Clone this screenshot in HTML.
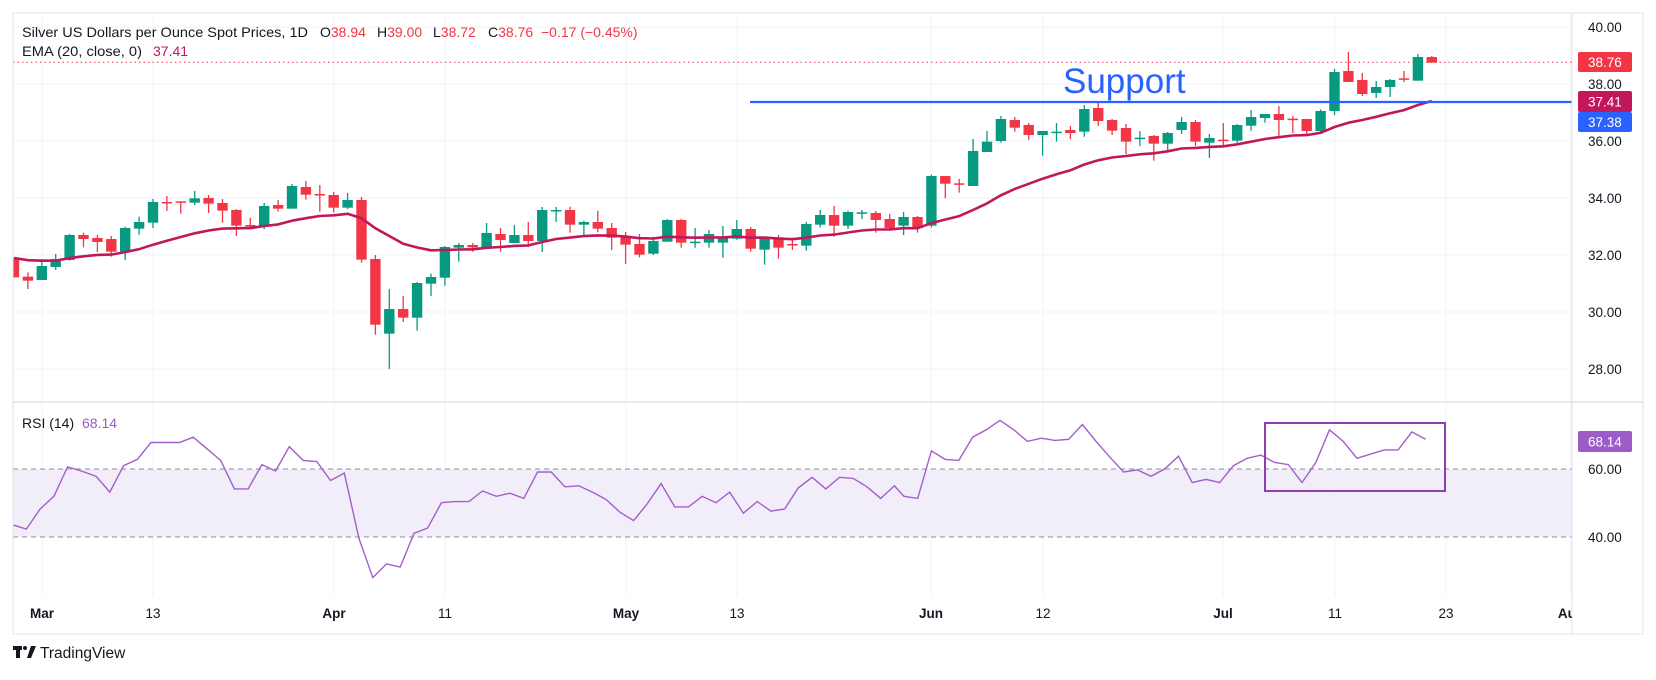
<!DOCTYPE html>
<html><head><meta charset="utf-8"><style>
body{margin:0;background:#fff;width:1656px;height:675px;overflow:hidden;font-family:"Liberation Sans",sans-serif}
svg text{font-family:"Liberation Sans",sans-serif}
</style></head><body>
<svg id="s" width="1656" height="675" viewBox="0 0 1656 675" xmlns="http://www.w3.org/2000/svg">
<rect x="0" y="0" width="1656" height="675" fill="#fff"/>
<g id="grid" stroke="#f0f3fa" stroke-width="1"></g>
<rect x="13" y="469" width="1559" height="68" fill="#ede8f7" opacity="0.75"/>
<line x1="13" y1="469" x2="1572" y2="469" stroke="#8a8e99" stroke-dasharray="5,4"/>
<line x1="13" y1="537" x2="1572" y2="537" stroke="#8a8e99" stroke-dasharray="5,4"/>
<line x1="13" y1="62.3" x2="1572" y2="62.3" stroke="#f23645" stroke-dasharray="1.5,3"/>
<g id="candles"></g>
<path id="ema" fill="none" stroke="#c2185b" stroke-width="2.6" stroke-linejoin="round"/>
<line x1="750" y1="102" x2="1572" y2="102" stroke="#2962ff" stroke-width="2.2"/>
<text x="1063" y="93" font-size="35" fill="#2962ff">Support</text>
<path id="rsi" fill="none" stroke="#a45ecb" stroke-width="1.4"/>
<rect x="1265" y="423" width="180" height="68" fill="none" stroke="#8e3fae" stroke-width="2"/>
<rect x="13" y="13" width="1630" height="621" fill="none" stroke="#e0e3eb"/>
<line x1="1572" y1="13" x2="1572" y2="634" stroke="#e0e3eb"/>
<line x1="13" y1="402" x2="1643" y2="402" stroke="#e0e3eb" stroke-width="1.5"/>
<g font-size="13.5" fill="#131722">
<text x="1588" y="32">40.00</text>
<text x="1588" y="89">38.00</text>
<text x="1588" y="146">36.00</text>
<text x="1588" y="203">34.00</text>
<text x="1588" y="260">32.00</text>
<text x="1588" y="317">30.00</text>
<text x="1588" y="374">28.00</text>
<text x="1588" y="474">60.00</text>
<text x="1588" y="542">40.00</text>
</g>
<rect x="1578" y="52" width="54" height="20" rx="2" fill="#f23645"/>
<text x="1588" y="67" font-size="13.5" fill="#fff">38.76</text>
<rect x="1578" y="91" width="54" height="21" rx="2" fill="#c2185b"/>
<text x="1588" y="106.5" font-size="13.5" fill="#fff">37.41</text>
<rect x="1578" y="112" width="54" height="20" rx="2" fill="#2962ff"/>
<text x="1588" y="127" font-size="13.5" fill="#fff">37.38</text>
<rect x="1578" y="431" width="54" height="21" rx="2" fill="#9c5bc7"/>
<text x="1588" y="446.5" font-size="13.5" fill="#fff">68.14</text>
<g font-size="13.5" fill="#131722" text-anchor="middle">
<text x="42" y="618" font-weight="bold">Mar</text>
<text x="153" y="618">13</text>
<text x="334" y="618" font-weight="bold">Apr</text>
<text x="445" y="618">11</text>
<text x="626" y="618" font-weight="bold">May</text>
<text x="737" y="618">13</text>
<text x="931" y="618" font-weight="bold">Jun</text>
<text x="1043" y="618">12</text>
<text x="1223" y="618" font-weight="bold">Jul</text>
<text x="1335" y="618">11</text>
<text x="1446" y="618">23</text>
</g>
<svg x="1540" y="600" width="32" height="30"><text x="31" y="18" font-size="13.5" font-weight="bold" fill="#131722" text-anchor="middle">Aug</text></svg>
<g font-size="14" fill="#131722">
<text x="22" y="37" textLength="286" lengthAdjust="spacingAndGlyphs">Silver US Dollars per Ounce Spot Prices, 1D</text>
<text x="320" y="37">O<tspan fill="#f23645">38.94</tspan></text>
<text x="377" y="37">H<tspan fill="#f23645">39.00</tspan></text>
<text x="433" y="37">L<tspan fill="#f23645">38.72</tspan></text>
<text x="488" y="37">C<tspan fill="#f23645">38.76</tspan></text>
<text x="541" y="37" fill="#f23645">−0.17 (−0.45%)</text>
<text x="22" y="56" textLength="120" lengthAdjust="spacingAndGlyphs">EMA (20, close, 0)</text>
<text x="153" y="56" fill="#c2185b">37.41</text>
<text x="22" y="428">RSI (14) <tspan dx="4" fill="#9c5bc7">68.14</tspan></text>
</g>
<g fill="#131722"><rect x="13" y="646" width="9" height="4"/><rect x="16" y="646" width="4" height="12"/><circle cx="25" cy="648" r="2"/><polygon points="27,658 31,646 36,646 31,658"/></g>
<text x="40" y="658" font-size="15.5" fill="#131722">TradingView</text>
</svg>
<script>
var NS="http://www.w3.org/2000/svg";
function el(t,a,p){var e=document.createElementNS(NS,t);for(var k in a)e.setAttribute(k,a[k]);p.appendChild(e);return e;}
var grid=document.getElementById('grid');
[42,153,334,445,626,737,931,1043,1223,1335,1446,1571].forEach(function(x){el('line',{x1:x,y1:13,x2:x,y2:596},grid);});
[27,84,141,198,255,312,369].forEach(function(y){el('line',{x1:13,y1:y,x2:1572,y2:y},grid);});
var z3=[[295,352,295,352,0],[350,362,337,387,0],[318,360,297,360,1],[297,321,282,330,1],[225,300,222,302,1],[225,237,218,262,0],[234,246,225,276,0],[237,275,228,290,0],[204,275,200,300,1],[186,206,170,224,1],[126,188,117,204,1],[126,128,108,153,0],[124,126,124,161,0],[115,128,93,135,1],[114,131,105,159,0],[129,152,117,188,0],[150,197,147,228,0],[195,198,173,206,0],[138,200,129,207,1],[135,146,120,155,0],[78,146,72,146,1],[81,104,63,119,0],[102,106,75,155,0],[105,143,96,158,0],[120,143,99,147,1],[120,299,111,308,0],[297,494,285,524,0],[447,521,387,627,1],[447,473,408,486,0],[369,473,366,512,1],[351,371,341,408,1],[261,353,258,377,1],[255,263,249,305,1],[255,262,249,275,0],[219,261,189,261,1],[222,240,204,275,0],[225,249,195,249,1],[225,243,186,261,0],[150,243,141,276,1],[150,152,141,186,1]];
var z9=[[210,254,200,278,0],[246,254,242,285,1],[246,266,212,277,0],[264,293,249,330,0],[289,314,276,372,0],[312,344,282,352,0],[303,341,290,345,1],[240,305,237,305,1],[240,308,237,323,0],[305,307,264,323,1],[282,308,270,323,1],[292,308,258,353,1],[267,296,240,299,1],[267,326,261,335,0],[290,329,290,374,1],[292,323,285,356,0],[312,314,293,330,0],[252,317,246,332,1],[225,254,210,262,1],[225,257,198,290,0],[216,257,212,267,1],[217,219,210,237,1],[219,240,213,278,0],[237,264,222,270,0],[231,257,216,285,1],[231,264,228,278,0],[108,257,104,263,1]];
var z10=[[348,371,348,415,0],[370,372,357,398,0],[273,378,237,378,1],[245,276,213,276,1],[177,243,168,248,1],[180,203,171,215,0],[195,225,189,240,0],[213,225,213,287,1],[215,217,189,245,1],[210,219,198,237,0],[147,215,135,230,1],[144,183,128,198,0],[180,212,177,225,0],[204,245,192,282,0],[233,235,213,258,1],[228,251,225,302,0],[219,251,216,270,1],[186,210,171,222,1],[186,245,180,258,0],[234,248,222,294,1],[239,241,189,258,0],[195,242,192,248,1],[171,197,150,212,1],[162,174,162,188,1],[162,180,138,231,0],[176,178,168,219,0],[177,213,177,222,0],[153,213,148,216,1],[36,153,27,165,1],[33,66,-24,66,0],[60,102,39,108,0],[81,99,63,114,1],[60,81,57,111,1],[55,57,33,66,0],[-9,62,-18,62,1],[-9,8,-12,8,0]];
var C=[];
z3.forEach(function(d){C.push([160+d[0]/3,160+d[1]/3,160+d[2]/3,160+d[3]/3,d[4]]);});
z9.forEach(function(d){C.push([140+d[0]/3,140+d[1]/3,140+d[2]/3,140+d[3]/3,d[4]]);});
z10.forEach(function(d){C.push([60+d[0]/3,60+d[1]/3,60+d[2]/3,60+d[3]/3,d[4]]);});
var cg=document.getElementById('candles');
cg.setAttribute('clip-path','url(#cp)');
var defs=el('defs',{},document.getElementById('s'));var cp=el('clipPath',{id:'cp'},defs);el('rect',{x:13,y:13,width:1559,height:389},cp);
var ema=258,pts=[];var a=2/21;
C.forEach(function(d,k){
 var x=14+k*13.9,col=d[4]?'#089981':'#f23645';
 el('line',{x1:x,y1:d[2],x2:x,y2:d[3],stroke:col,'stroke-width':1.3},cg);
 var h=Math.max(1.5,d[1]-d[0]);
 el('rect',{x:x-5.2,y:d[0],width:10.4,height:h,fill:col},cg);
 var close=d[4]?d[0]:d[1];
 if(k>0)ema=ema+a*(close-ema);
 pts.push(x.toFixed(1)+','+ema.toFixed(1));
});
document.getElementById('ema').setAttribute('d','M'+pts.join(' L'));
document.getElementById('ema').setAttribute('clip-path','url(#cp)');
var r=[12,497,25,501,38,482,51,470,64,442,77,446,91,451,104,466,117,441,130,435,143,419,157,419,170,419,183,414,196,425,209,436,222,463,235,463,248,440,261,446,274,423,287,436,300,437,313,455,326,448,340,510,353,547,366,534,379,537,392,505,405,500,418,476,431,475,444,475,457,465,470,470,483,467,496,472,509,447,522,447,535,461,548,460,561,466,574,473,587,485,600,493,613,477,626,458,639,480,652,480,665,470,678,476,691,466,704,486,717,475,730,484,743,482,756,462,769,452,782,463,795,452,808,453,821,461,834,472,847,460,856,470,869,472,882,427,895,435,908,436,921,414,934,407,947,398,960,407,973,418,986,415,999,417,1012,416,1025,402,1038,418,1051,433,1064,447,1077,445,1090,451,1103,444,1116,432,1129,457,1142,454,1155,457,1168,441,1181,434,1194,431,1207,438,1220,440,1233,457,1246,438,1259,407,1272,418,1285,434,1298,430,1311,426,1324,426,1337,409,1350,416];
var rp=[];for(var i=0;i<r.length;i+=2)rp.push((r[i]*1.056).toFixed(1)+','+(r[i+1]*1.056).toFixed(1));
document.getElementById('rsi').setAttribute('d','M'+rp.join(' L'));
</script>
</body></html>
